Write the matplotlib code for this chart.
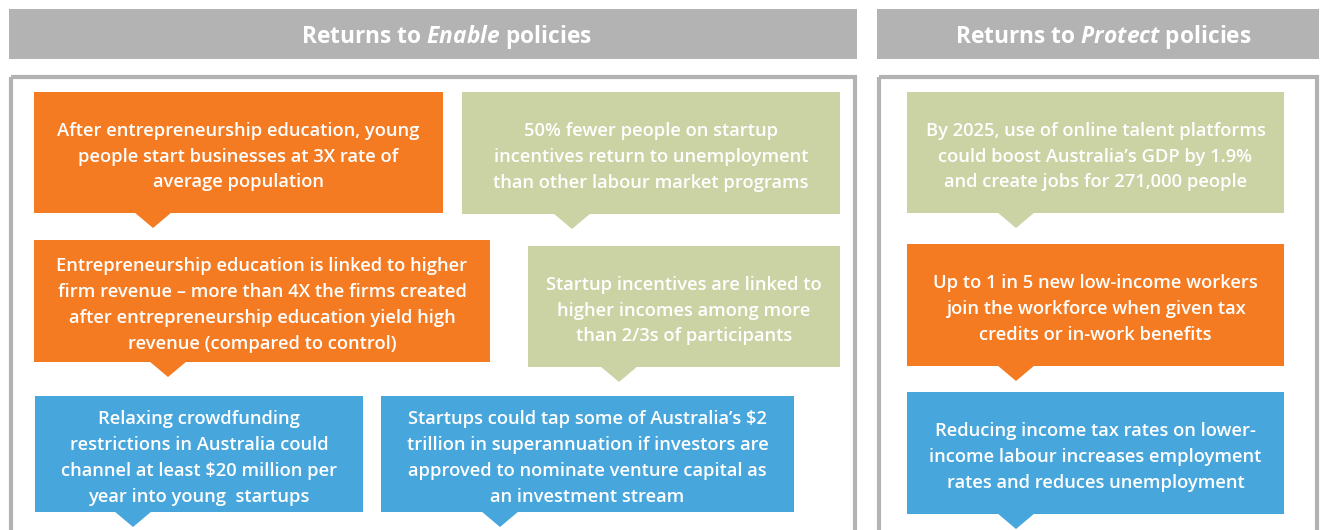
import matplotlib
matplotlib.use("Agg")
import matplotlib.pyplot as plt
from matplotlib.patches import Rectangle, Polygon

plt.rcParams['font.family'] = ['Open Sans', 'DejaVu Sans']
plt.rcParams['mathtext.fontset'] = 'custom'
plt.rcParams['mathtext.it'] = 'Open Sans:italic:bold'
plt.rcParams['mathtext.rm'] = 'Open Sans:bold'

# headers
headers = ["Returns to $\\mathit{Enable}$ policies",
           "Returns to $\\mathit{Protect}$ policies"]

# box texts and category (colour key)
box_texts = [
    "After entrepreneurship education, young\npeople start businesses at 3X rate of\naverage population",
    "50% fewer people on startup\nincentives return to unemployment\nthan other labour market programs",
    "Entrepreneurship education is linked to higher\nfirm revenue \u2013 more than 4X the firms created\nafter entrepreneurship education yield high\nrevenue (compared to control)",
    "Startup incentives are linked to\nhigher incomes among more\nthan 2/3s of participants",
    "Relaxing crowdfunding\nrestrictions in Australia could\nchannel at least $20 million per\nyear into young  startups",
    "Startups could tap some of Australia\u2019s $2\ntrillion in superannuation if investors are\napproved to nominate venture capital as\nan investment stream",
    "By 2025, use of online talent platforms\ncould boost Australia\u2019s GDP by 1.9%\nand create jobs for 271,000 people",
    "Up to 1 in 5 new low-income workers\njoin the workforce when given tax\ncredits or in-work benefits",
    "Reducing income tax rates on lower-\nincome labour increases employment\nrates and reduces unemployment",
]
box_kind = ["orange", "green", "orange", "green", "blue", "blue",
            "green", "orange", "blue"]

colors = {"orange": "#f47b22", "green": "#cbd3a5", "blue": "#47a6dc"}
grey = "#b3b3b3"

# layout in pixels: x0, y0, x1, y1, pointer x
box_layout = [
    (34, 92, 443, 213, 153),
    (462, 92, 840, 214, 572),
    (34, 240, 490, 362, 168),
    (528, 246, 840, 367, 619),
    (35, 396, 363, 512, 133),
    (381, 396, 794, 512, 500),
    (907, 92, 1284, 213, 1016),
    (907, 244, 1284, 366, 1016),
    (907, 392, 1284, 514, 1016),
]
header_layout = [(9, 857, 446), (877, 1319, 1103)]

W, H = 1321, 530
fig = plt.figure(figsize=(W / 100, H / 100), dpi=100)
ax = fig.add_axes([0, 0, 1, 1])
ax.set_xlim(0, W)
ax.set_ylim(H, 0)
ax.axis('off')

for (x0, x1, xc), title in zip(header_layout, headers):
    ax.add_patch(Rectangle((x0, 9), x1 - x0, 50, color=grey, lw=0))
    ax.text(xc, 37, title, color='white', fontsize=16.4,
            fontweight='bold', ha='center', va='center')
    # panel outline
    ax.add_patch(Rectangle((x0 + 2, 77), x1 - x0 - 4, 500, fill=False,
                           ec=grey, lw=3))

for (x0, y0, x1, y1, px), txt, kind in zip(box_layout, box_texts, box_kind):
    c = colors[kind]
    ax.add_patch(Rectangle((x0, y0), x1 - x0, y1 - y0, color=c, lw=0))
    ax.add_patch(Polygon([(px - 19, y1 - 1), (px + 19, y1 - 1), (px, y1 + 15)],
                         closed=True, color=c, lw=0))
    ax.text((x0 + x1) / 2, (y0 + y1) / 2 + 4, txt, color='white', fontsize=13.2,
            ha='center', va='center', linespacing=1.55, parse_math=False,
            fontweight='semibold')

fig.savefig("out.png", dpi=100)
